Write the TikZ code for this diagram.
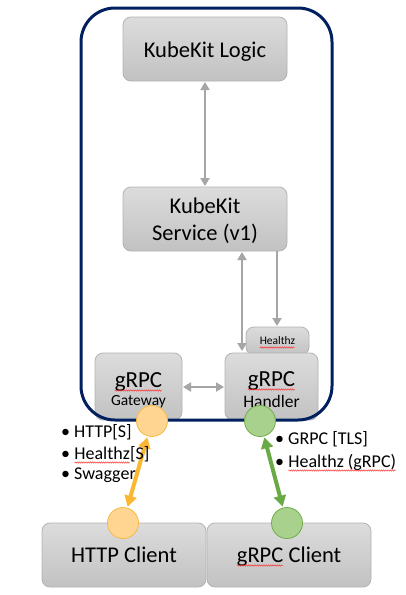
\documentclass[tikz,border=0pt]{standalone}
\usepackage{fontspec}
\setmainfont{Carlito}
\usetikzlibrary{arrows.meta,decorations.pathmorphing}
\definecolor{navy}{HTML}{002060}
\definecolor{boxline}{HTML}{B3B3B3}
\definecolor{boxtop}{HTML}{DCDCDC}
\definecolor{boxbot}{HTML}{C2C2C2}
\definecolor{arrgray}{HTML}{A6A6A6}
\definecolor{orfill}{HTML}{FFD591}
\definecolor{orline}{HTML}{F7B946}
\definecolor{orarrow}{HTML}{FBB731}
\definecolor{grfill}{HTML}{A9D18E}
\definecolor{grline}{HTML}{70AD47}
\definecolor{grarrow}{HTML}{6AAA46}
\newcommand\spl[1]{\tikz[baseline=(sw.base)]{\node[inner sep=0pt,outer sep=0pt,anchor=base] (sw) at (0,0) {#1};\draw[red!85,line width=0.4pt,decorate,decoration={snake,amplitude=0.7pt,segment length=2.2pt}] ([yshift=-3.5pt]sw.base west) -- ([yshift=-3.5pt]sw.base east);}}
\tikzset{
  gbox/.style={draw=boxline,line width=0.8pt,rounded corners=8pt,top color=boxtop,bottom color=boxbot},
  garrow/.style={draw=arrgray,line width=2.3pt,{Triangle[length=8pt,width=9pt]}-{Triangle[length=8pt,width=9pt]}},
  gdown/.style={draw=arrgray,line width=2.3pt,-{Triangle[length=8pt,width=9pt]}},
  ocirc/.style={circle,draw=orline,fill=orfill,line width=0.8pt,minimum size=31pt,inner sep=0pt},
  gcirc/.style={circle,draw=grline,fill=grfill,line width=0.8pt,minimum size=31pt,inner sep=0pt},
  txt/.style={anchor=base,inner sep=0pt},
  blt/.style={anchor=base west,inner sep=0pt,font=\fontsize{18}{20}\selectfont}
}
\begin{document}
\begin{tikzpicture}[x=1pt,y=-1pt]
\useasboundingbox (0,0) rectangle (406,595);
\fill[white] (0,0) rectangle (406,595);
% boxes
\path[gbox] (123,17) rectangle (287,81);
\node (logic) at (205,49) {};
\node[txt,font=\fontsize{22.5}{24}\selectfont] (logict) at (205,57) {KubeKit Logic};
\path[gbox] (123,187) rectangle (287,251);
\node (svc) at (205,219) {};
\node[txt,font=\fontsize{22.5}{24}\selectfont] (svct1) at (205,213) {KubeKit};
\node[txt,font=\fontsize{22.5}{24}\selectfont] (svct2) at (205,240) {Service (v1)};
\path[gbox] (246,327) rectangle (309,355);
\node[txt,font=\fontsize{11.5}{12}\selectfont] (hz) at (277.5,344) {\spl{Healthz}};
\path[gbox] (95,353) rectangle (182,420);
\node[txt,font=\fontsize{23}{24}\selectfont] (gwt1) at (138.5,387) {\spl{gRPC}};
\node[txt,font=\fontsize{15.5}{16}\selectfont] (gwt2) at (138.5,405) {Gateway};
\path[gbox] (225,353) rectangle (318,420);
\node[txt,font=\fontsize{23}{24}\selectfont] (hdt1) at (271.5,386) {\spl{gRPC}};
\node[txt,font=\fontsize{17.5}{18}\selectfont] (hdt2) at (271.5,407) {Handler};
\path[gbox] (42,523) rectangle (206,587);
\node[txt,font=\fontsize{22.5}{24}\selectfont] (httpc) at (124,562) {HTTP Client};
\path[gbox] (207,523) rectangle (371,587);
\node[txt,font=\fontsize{22.5}{24}\selectfont] (grpcc) at (289,562) {\spl{gRPC} Client};
% frame
\draw[navy,line width=3pt,rounded corners=34pt] (81,8) rectangle (332,420);
% gray arrows
\coordinate (a1) at (205,82);
\coordinate (a2) at (205,186);
\draw[garrow] (a1) -- (a2);
\coordinate (b1) at (242,252);
\coordinate (b2) at (242,351);
\draw[garrow] (b1) -- (b2);
\coordinate (c1) at (277,251);
\coordinate (c2) at (277,326);
\draw[gdown] (c1) -- (c2);
\coordinate (d1) at (183,387);
\coordinate (d2) at (224,387);
\draw[garrow] (d1) -- (d2);
% circles
\node[ocirc] (o1) at (152,421) {};
\node[gcirc] (g1) at (260,421) {};
\node[ocirc] (o2) at (123,523) {};
\node[gcirc] (g2) at (287,523) {};
\draw[orarrow,line width=4pt,{Triangle[length=11pt,width=12pt]}-{Triangle[length=11pt,width=12pt]},shorten <=1pt,shorten >=1pt] (o1) -- (o2);
\draw[grarrow,line width=4pt,{Triangle[length=11pt,width=12pt]}-{Triangle[length=11pt,width=12pt]},shorten <=1pt,shorten >=1pt] (g1) -- (g2);
% bullets
\node[blt] (l1) at (61,437) {•\hspace{4pt}HTTP[S]};
\node[blt] (l2) at (61,459) {•\hspace{4pt}\spl{Healthz}[S]};
\node[blt] (l3) at (61,479) {•\hspace{4pt}Swagger};
\node[blt] (r1) at (275,444) {•\hspace{4pt}GRPC [TLS]};
\node[blt] (r2) at (275,467) {•\hspace{4pt}\spl{Healthz (gRPC)}};
\end{tikzpicture}
\end{document}
